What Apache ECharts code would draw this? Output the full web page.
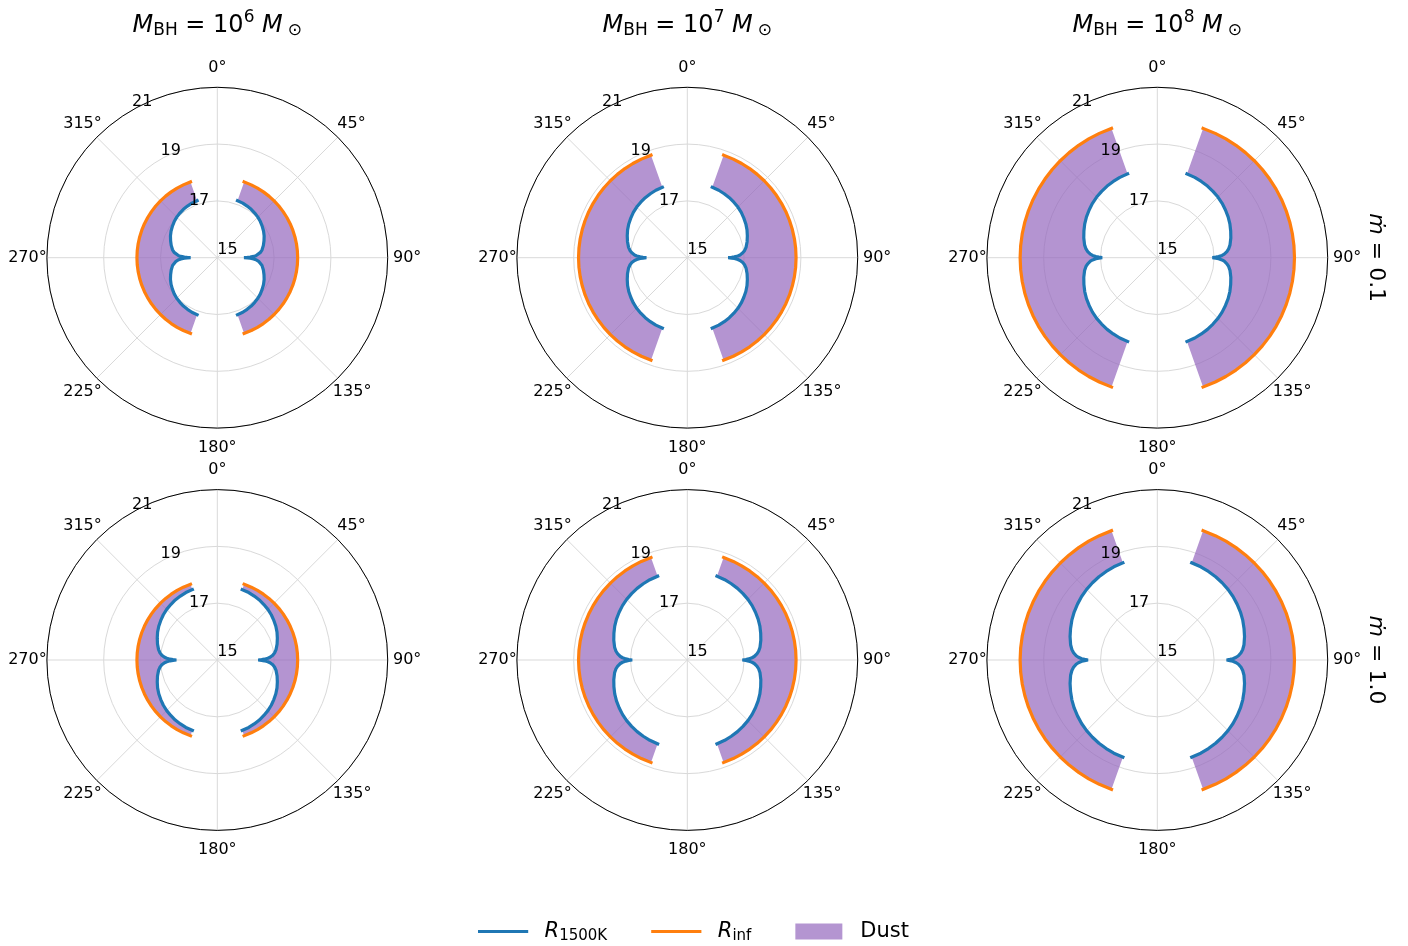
<!DOCTYPE html>
<html><head><meta charset="utf-8">
<script src="https://cdn.jsdelivr.net/npm/echarts@6/dist/echarts.min.js"></script>
<style>html,body{margin:0;padding:0;background:#fff}#c{width:1408px;height:946px}</style>
</head><body><div id="c"></div>
<script>
// ---------------- data ----------------
const massExponents = ['6', '7', '8'];          // column titles: M_BH = 10^x M_sun
const mdotLabels = ['0.1', '1.0'];              // row labels
const radiusMin = 15, radiusMax = 21, radiusStep = 2;   // radial ticks 15,17,19,21
const angleStep = 45;                                    // angular ticks 0..315 deg
// polar angle (deg, clockwise from top) sampled for the R_1500K curve, pole -> equator
const thetaHalf = [19.5, 25, 30, 35, 40, 45, 50, 55, 60, 65, 70, 75, 80, 83, 85, 87, 88, 89, 89.5, 90];
// angles sampled along the R_inf arc
const thetaArc = [19.5, 25, 30, 35, 40, 45, 50, 55, 60, 65, 70, 75, 80, 85, 90, 95, 100, 105, 110, 115, 120, 125, 130, 135, 140, 145, 150, 155, 160.5];
// log R_1500K vs angle (symmetric about the equator and the axis)
const r1500_m6_mdot01 = [17.13, 17.12, 17.10, 17.08, 17.05, 17.02, 16.98, 16.93, 16.88, 16.82, 16.75, 16.68, 16.60, 16.53, 16.46, 16.36, 16.28, 16.16, 16.06, 15.94];
const r1500_m7_mdot01 = [17.63, 17.62, 17.60, 17.58, 17.55, 17.52, 17.48, 17.43, 17.38, 17.32, 17.25, 17.18, 17.10, 17.03, 16.96, 16.86, 16.78, 16.66, 16.56, 16.44];
const r1500_m8_mdot01 = [18.13, 18.12, 18.10, 18.08, 18.05, 18.02, 17.98, 17.93, 17.88, 17.82, 17.75, 17.68, 17.60, 17.53, 17.46, 17.36, 17.28, 17.16, 17.06, 16.94];
const r1500_m6_mdot1 = [17.63, 17.62, 17.60, 17.58, 17.55, 17.52, 17.48, 17.43, 17.38, 17.32, 17.25, 17.18, 17.10, 17.03, 16.96, 16.86, 16.78, 16.66, 16.56, 16.44];
const r1500_m7_mdot1 = [18.13, 18.12, 18.10, 18.08, 18.05, 18.02, 17.98, 17.93, 17.88, 17.82, 17.75, 17.68, 17.60, 17.53, 17.46, 17.36, 17.28, 17.16, 17.06, 16.94];
const r1500_m8_mdot1 = [18.63, 18.62, 18.60, 18.58, 18.55, 18.52, 18.48, 18.43, 18.38, 18.32, 18.25, 18.18, 18.10, 18.03, 17.96, 17.86, 17.78, 17.66, 17.56, 17.44];
// log R_inf (constant radius arc)
const rInf_m6 = 17.83, rInf_m7 = 18.83, rInf_m8 = 19.83;

// ---------------- layout / style ----------------
const FONT = 'DejaVu Sans';
const colCenters = [217.3, 687.3, 1157.3];
const rowCenters = [257.7, 660];
const RADIUS = 170.4;
const BLUE = '#1f77b4', ORANGE = '#ff7f0e', PURPLE = '#9467bd';
const GRID = '#d9d9d9';
const LW = 3.2;

const panels = [
  { row: 0, col: 0, blue: r1500_m6_mdot01, rinf: rInf_m6 },
  { row: 0, col: 1, blue: r1500_m7_mdot01, rinf: rInf_m7 },
  { row: 0, col: 2, blue: r1500_m8_mdot01, rinf: rInf_m8 },
  { row: 1, col: 0, blue: r1500_m6_mdot1, rinf: rInf_m6 },
  { row: 1, col: 1, blue: r1500_m7_mdot1, rinf: rInf_m7 },
  { row: 1, col: 2, blue: r1500_m8_mdot1, rinf: rInf_m8 }
];

function rightCurve(half) {
  const pts = half.map((r, i) => [r, thetaHalf[i]]);
  for (let i = half.length - 2; i >= 0; i--) pts.push([half[i], 180 - thetaHalf[i]]);
  return pts;
}
const mirror = pts => pts.map(p => [p[0], 360 - p[1]]);

// angle-label offsets so each label is centred on a circle just outside the plot
const angleLabelRich = {
  a0: { padding: [0, 0, 18.5, 0] },
  a45: { padding: [0, 0, 10.7, 4.5] },
  a90: { padding: [0, 0, 0, 12.3] },
  a135: { padding: [10.7, 0, 0, 0] },
  a180: { padding: [18.5, 0, 0, 0] },
  a225: { padding: [10.7, 0, 0, 0] },
  a270: { padding: [0, 7.2, 0, 0] },
  a315: { padding: [0, 0, 10.7, 0] },
  a360: { padding: [0, 0, 18.5, 0] }
};
Object.keys(angleLabelRich).forEach(k => Object.assign(angleLabelRich[k], { fontFamily: FONT, fontSize: 16, color: '#000' }));

const polar = [], angleAxis = [], radiusAxis = [], series = [];
const n = panels.length;
panels.forEach((p, i) => {
  const center = [colCenters[p.col], rowCenters[p.row]];
  polar.push({ center: center, radius: RADIUS });
  angleAxis.push({
    polarIndex: i, type: 'value', min: 0, max: 360, interval: angleStep,
    startAngle: 90, clockwise: true,
    axisLine: { lineStyle: { color: '#000', width: 1 } },
    axisTick: { show: false },
    axisLabel: {
      formatter: v => '{a' + v + '|' + v + '°}', margin: -7, color: '#000',
      fontFamily: FONT, fontSize: 16, rich: angleLabelRich
    },
    splitLine: { show: true, lineStyle: { color: GRID, width: 1 } }
  });
  radiusAxis.push({
    polarIndex: i, type: 'value', min: radiusMin, max: radiusMax, interval: radiusStep,
    axisLine: { show: false }, axisTick: { show: false }, axisLabel: { show: false },
    splitLine: { show: true, lineStyle: { color: GRID, width: 1 } }
  });
  const bR = rightCurve(p.blue), bL = mirror(bR);
  const oR = thetaArc.map(t => [p.rinf, t]), oL = mirror(oR);
  series.push({
    type: 'custom', name: 'Dust', coordinateSystem: 'polar', polarIndex: i, z: 1, silent: true,
    itemStyle: { color: PURPLE, opacity: 0.7 },
    data: [[p.rinf, 90], [p.rinf, 270]],
    renderItem: (params, api) => {
      const left = params.dataIndex === 1;
      const b = left ? bL : bR, o = left ? oL : oR;
      const pts = b.map(q => api.coord(q)).concat(o.slice().reverse().map(q => api.coord(q)));
      return { type: 'polygon', shape: { points: pts }, style: { fill: PURPLE, opacity: 0.7 } };
    }
  });
  [bR, bL].forEach(d => series.push({
    type: 'line', name: 'R1500K', coordinateSystem: 'polar', polarIndex: i, data: d, z: 3,
    symbol: 'none', showSymbol: false, silent: true, itemStyle: { color: BLUE },
    lineStyle: { color: BLUE, width: LW, cap: 'square' }
  }));
  [oR, oL].forEach(d => series.push({
    type: 'line', name: 'Rinf', coordinateSystem: 'polar', polarIndex: i, data: d, z: 3,
    symbol: 'none', showSymbol: false, silent: true, itemStyle: { color: ORANGE },
    lineStyle: { color: ORANGE, width: LW, cap: 'square' }
  }));
});
// second polar per panel: only carries the radial tick labels (drawn along the 330 deg ray, on top)
panels.forEach((p, i) => {
  const center = [colCenters[p.col], rowCenters[p.row]];
  polar.push({ center: center, radius: RADIUS });
  angleAxis.push({ polarIndex: n + i, type: 'value', min: 0, max: 360, startAngle: 120, show: false });
  radiusAxis.push({
    polarIndex: n + i, type: 'value', min: radiusMin, max: radiusMax, interval: radiusStep, z: 20,
    axisLine: { show: false }, axisTick: { show: false }, splitLine: { show: false },
    axisLabel: { show: true, margin: 0, align: 'left', verticalAlign: 'bottom', color: '#000', fontFamily: FONT, fontSize: 16 }
  });
});

const graphic = [];
massExponents.forEach((e, c) => {
  graphic.push({
    type: 'text', x: colCenters[c], y: 26, silent: true,
    style: {
      text: '{m|M}{s|BH}{n| = 10}{p|' + e + '}{n| }{m|M}{o|⊙}',
      align: 'center', verticalAlign: 'middle', fill: '#000',
      fontFamily: FONT, fontSize: 24,
      rich: {
        m: { fontFamily: FONT, fontSize: 24, fontStyle: 'italic', verticalAlign: 'middle' },
        n: { fontFamily: FONT, fontSize: 24, verticalAlign: 'middle' },
        s: { fontFamily: FONT, fontSize: 17, verticalAlign: 'middle', padding: [10, 0, 0, 0] },
        p: { fontFamily: FONT, fontSize: 17, verticalAlign: 'middle', padding: [0, 0, 16, 0] },
        o: { fontFamily: FONT, fontSize: 17, verticalAlign: 'middle', padding: [10, 0, 0, 5] }
      }
    }
  });
});
mdotLabels.forEach((v, r) => {
  graphic.push({
    type: 'text', x: 1376, y: rowCenters[r], rotation: -Math.PI / 2, silent: true,
    style: {
      text: '{m|ṁ}{n| = ' + v + '}', align: 'center', verticalAlign: 'middle', fill: '#000',
      fontFamily: FONT, fontSize: 22,
      rich: {
        m: { fontFamily: FONT, fontSize: 22, fontStyle: 'italic', verticalAlign: 'middle' },
        n: { fontFamily: FONT, fontSize: 22, verticalAlign: 'middle' }
      }
    }
  });
});

const legendText = { R1500K: '{i|R}{s|1500K}', Rinf: '{i|R}{s|inf}', Dust: '{n|Dust}' };
const option = {
  animation: false,
  backgroundColor: '#fff',
  polar, angleAxis, radiusAxis, series, graphic,
  legend: {
    left: 478, top: 921, padding: 0, itemWidth: 47, itemHeight: 16, itemGap: 44,
    data: [
      { name: 'R1500K', itemStyle: { opacity: 0 }, lineStyle: { width: LW } },
      { name: 'Rinf', itemStyle: { opacity: 0 }, lineStyle: { width: LW } },
      { name: 'Dust', icon: 'rect', itemStyle: { color: '#b495d1', opacity: 1 } }
    ],
    formatter: name => legendText[name],
    textStyle: {
      color: '#000', fontFamily: FONT, fontSize: 21,
      rich: {
        i: { fontFamily: FONT, fontSize: 21, fontStyle: 'italic', verticalAlign: 'middle', padding: [0, 0, 0, 13] },
        s: { fontFamily: FONT, fontSize: 15, verticalAlign: 'middle', padding: [9, 0, 0, 0] },
        n: { fontFamily: FONT, fontSize: 21, verticalAlign: 'middle', padding: [0, 0, 0, 13] }
      }
    }
  }
};
const chart = echarts.init(document.getElementById('c'));
chart.setOption(option);
</script>
</body></html>
